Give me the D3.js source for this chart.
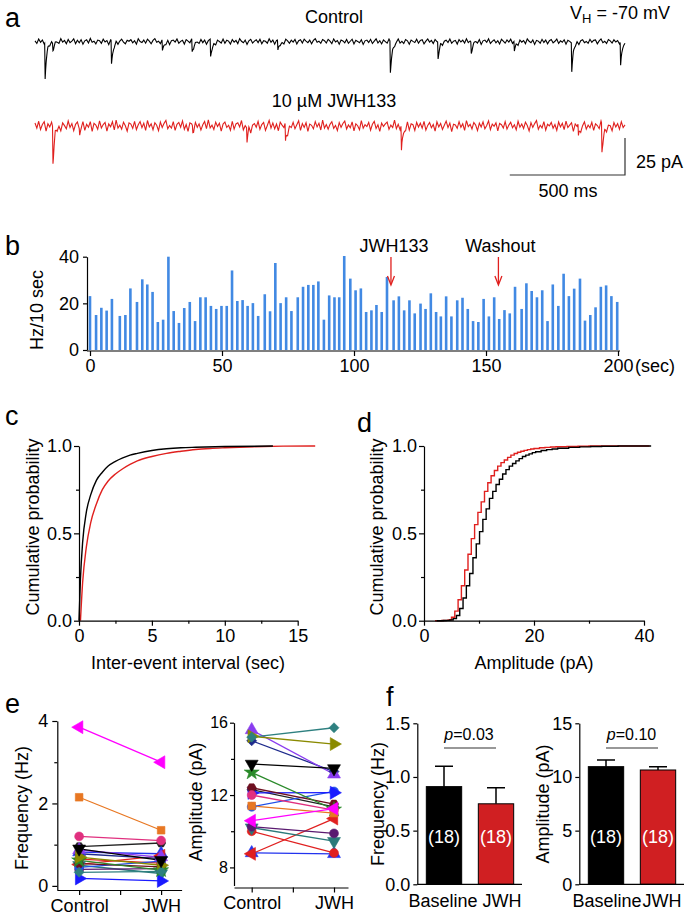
<!DOCTYPE html>
<html><head><meta charset="utf-8">
<script src="https://cdn.jsdelivr.net/npm/d3@7"></script>
<style>body{margin:0;background:#fff;}svg{display:block;}</style>
</head><body>
<script>
// ---------------- DATA ----------------
// Panel a: sEPSC traces (baseline noise sampled every 8 ms, pA) and events [time ms, amplitude pA]
const traceStep = 8;
const ctrlNoise = [0.6,-1.2,1.8,-0.4,1.1,-1.6,0.3,2.0,-0.9,0.7,-1.8,1.2,0.2,-1.0,2.1,-0.3,0.9,-1.4,1.5,-0.6,
0.4,1.9,-1.3,1.0,-0.7,1.4,-1.7,0.6,1.3,-0.9,2.2,-0.4,0.3,-1.5,1.1,0.7,-1.1,1.7,-0.2,0.8,
-2.0,1.3,0.4,-0.7,1.6,-1.3,0.6,1.8,-0.3,-1.4,1.0,0.3,1.4,-0.8,0.7,-1.7,2.0,0.1,-0.6,1.1,
-1.0,1.7,0.4,-1.4,0.9,2.1,-0.4,0.3,-1.3,1.6,0.6,-0.9,1.3,-1.8,0.7,1.1,-0.3,1.8,-1.1,0.2,
1.0,-1.6,1.4,0.4,-0.7,2.0,-1.3,0.9,0.3,-1.0,1.6,-0.6,1.1,-1.7,0.7,1.7,-0.4,0.6,-1.4,1.3,
0.2,-0.9,1.8,-1.1,1.0,0.4,-1.6,1.4,-0.3,0.9,-1.3,2.1,0.3,-0.7,1.1,-1.8,0.6,1.6,-0.9,0.4,
1.3,-0.6,1.7,-1.4,0.7,0.3,-1.0,2.0,-0.4,1.1,-1.7,0.9,1.4,-0.7,0.2,-1.3,1.8,0.6,-1.1,1.0,
-0.3,1.6,-1.6,0.7,1.3,-0.9,1.7,0.4,-0.6,1.1,-1.4,0.9,2.0,-0.4,0.3,-1.1,1.4,0.7,-0.9,1.6,
0.4,-1.3,1.9,-0.2,0.8,-1.7,1.2,0.5,-0.8,1.5,-1.1,0.3,1.7,-1.5,0.9,0.2,-0.7,1.3,-1.9,0.6,
1.1,-0.5,1.6,-1.2,0.4,1.9,-0.9,0.7,-1.5,1.2,0.1,-1.0,1.8,-0.6,1.0,-1.3,0.5,2.1,-0.8,0.3,
-1.2,1.4,0.6,-1.7,1.1,0.2,-0.6,1.7,-1.0,0.8,1.3,-1.5,0.4,1.9,-0.3,0.9,-1.2,1.5,0.1,-0.8,
1.6,-1.4,0.7,1.2,-0.5,1.8,-1.1,0.3,0.9,-1.6,1.4,-0.2,1.0,-0.9,2.0,-0.6,0.5,-1.3,1.2,0.8,
-0.7,1.5,-1.8,0.6,1.1,-0.4,1.9,-1.2,0.2,1.3,-0.8,0.7,-1.5,1.6,0.4,-1.0,1.2,-0.3,1.7,-1.1,
0.5,1.0,-1.6,1.4,-0.2,0.8,-1.3,1.9,0.3,-0.7,1.2,-1.8,0.9,0.4,-1.0,1.6,-0.5,1.1,-1.4,0.7,
1.5,-0.8,0.3,1.8,-1.2,0.6,-0.4,1.3,-1.7,1.0,0.2,-0.9,1.7,-0.3,1.1,-1.5,0.8,1.4,-0.6,0.2,
-1.1,1.6,-0.4,0.9,1.2,-1.4,0.5,1.9,-0.7,0.3,-1.2,1.5,0.6,-0.9,1.3,-0.2,0.8,-1.6,1.1,0.4,0.5];
const jwhNoise = [2.0,-1.5,3.2,-2.4,1.0,2.9,-3.5,1.5,-0.6,2.6,-2.9,3.7,-1.1,0.8,-3.0,2.2,0.3,-1.9,3.4,-1.0,
1.6,-3.2,1.1,2.7,-1.8,0.5,3.8,-2.6,1.3,-0.8,3.0,-3.7,1.8,0.6,-2.2,3.5,-1.3,1.0,2.4,-3.4,
1.4,-0.5,2.9,-2.7,4.0,-1.4,0.6,-2.1,2.6,0.2,-3.5,2.1,1.3,-1.6,3.2,-2.4,0.8,3.0,-1.1,1.9,
-2.9,3.7,-0.6,1.4,-2.6,2.2,0.5,-3.2,2.7,-1.0,1.8,3.8,-1.9,0.3,-1.4,2.9,-3.0,1.1,2.4,-0.8,
3.4,-2.2,1.0,-3.7,2.1,1.4,-1.6,3.5,-0.5,1.6,-2.7,0.8,3.0,-1.8,4.1,-1.3,0.6,-2.4,2.6,-0.3,
1.9,-3.4,1.3,2.7,-1.0,0.5,-2.9,3.2,-2.1,1.4,2.2,-0.6,3.7,-2.6,0.2,-1.6,2.9,-3.5,1.1,1.8,
-0.8,3.2,-2.2,1.0,2.4,-3.0,0.3,3.8,-1.4,2.1,-1.9,1.3,-3.2,2.6,0.6,-1.1,3.4,-2.4,1.4,-0.5,
2.7,-1.8,0.8,3.5,-2.9,1.6,-1.0,2.2,-3.7,1.3,0.5,-1.9,3.0,-0.6,1.8,-2.7,4.0,-1.4,1.0,-2.2,
1.1,2.9,-1.6,0.4,-3.1,2.3,-0.9,1.7,3.3,-2.0,0.7,-1.2,2.8,-3.3,1.5,0.2,-2.5,3.6,-1.5,0.9,
-0.4,2.4,-2.8,1.2,3.1,-1.7,0.8,-3.6,2.0,-0.3,1.4,2.7,-2.3,0.6,-1.0,3.9,-1.8,1.1,-2.6,2.2,
0.3,-1.4,3.4,-2.5,1.6,0.9,-3.0,2.5,-0.7,1.9,-1.5,3.1,-2.8,0.4,2.3,-1.2,1.0,-3.4,2.8,-0.6,
1.7,-2.3,0.5,3.3,-1.1,2.0,-3.8,1.2,0.7,-1.6,2.9,-0.9,1.5,-2.9,3.6,-0.4,1.1,-2.0,2.4,0.6,
-3.1,1.9,-0.7,2.8,-1.9,0.4,3.5,-2.4,1.3,-0.2,2.1,-3.3,1.7,0.9,-1.4,3.0,-2.1,0.6,2.5,-1.2,
0.8,-2.6,3.2,-0.8,1.4,-1.7,2.6,0.3,-3.4,2.2,-1.0,1.6,3.7,-2.2,0.5,-1.3,2.9,-2.8,1.2,0.1,
2.4,-1.5,1.0,-3.0,2.7,-0.6,1.8,-2.4,3.3,-1.1,0.6,2.2,-3.6,1.4,-0.3,2.6,-1.9,1.1,3.1,-2.0,
0.7,-1.2,2.5,-2.9,1.5,0.3,-1.8,3.4,-0.9,2.0,-2.5,1.1,0.4,-3.2,2.3,-0.7,1.6,-2.2,2.9,-1.0,0.8];
const ctrlEvents = [[42,24.5],[76,4.5],[330,15.7],[551,7.4],[680,7.9],[760,11.2],[1052,6.8],[1540,21],[1747,11.2],[1891,7.4],[2078,6.8],[2327,19.8],[2539,16]];
const jwhEvents = [[76,24],[192,5],[683,4],[918,9.5],[1085,12.8],[1588,17.3],[2356,8.3],[2458,19]];

// Panel b: event rate per 10 s bin
const rateTimes = [0,2.3,4.3,6.3,8.3,11.3,13.4,15.3,17.8,19.8,21.7,23.7,25.7,27.7,29.7,31.7,33.7,35.7,37.8,39.8,41.8,43.8,45.8,47.8,49.8,51.8,53.8,55.8,57.8,59.7,61.7,63.7,66.2,68.2,70.2,72.2,74.3,76.3,78.7,80.7,82.7,84.6,86.5,88.6,90.6,92.6,94.4,96.3,98.6,100.6,102.6,104.6,106.6,108.5,110.5,112.5,115.0,117.0,119.0,121.0,123.0,125.2,127.1,129.1,131.1,132.9,134.9,136.9,139.1,141.1,143.1,145.1,147.1,149.1,151.1,153.1,155.0,157.0,159.0,161.0,163.5,165.3,167.3,169.3,171.3,173.3,175.3,177.4,179.4,181.4,183.4,185.6,187.5,189.5,191.5,193.5,195.5,197.5,199.7];
const rateValues = [23.1,15,18.1,16.9,21.9,14.6,15,26.4,20.6,30.3,28.1,24.9,12,13,40,16.7,11.6,18,20.6,12.4,22.6,22.6,18.9,17.6,18.9,18.9,34.1,21,21.4,18.9,20.1,14.6,23.9,16.6,37.3,20.1,22.6,16.7,22.6,27.1,27.9,27.9,29.4,13,23.4,22.6,22.6,40.3,30.6,25.6,26.4,16.3,17,19.3,16.3,31.3,21.3,23,17,21.3,15.7,19.9,17.6,24.3,16.3,14.4,23,14.4,21.3,22.4,17.6,12.4,12,21.9,14.4,22.6,13.3,17.1,15.7,27.1,17.6,28.6,25.3,22.6,25.6,12.4,28.1,18.9,32.7,23.1,26.3,30.6,12.6,15,18.3,27.1,27.7,23.1,20.6];
const rateXTicks = [0,50,100,150,200];
const rateYTicks = [0,20,40];
const arrowTimes = [114,154.7];
const arrowLabels = ["JWH133","Washout"];

// Panel c: cumulative inter-event interval
const ieiCtrlX = [0,0.1,0.25,0.5,0.8,1.2,1.6,2.0,2.5,3,3.5,4,5,6,7,8,10,13.3];
const ieiCtrlP = [0,0.24,0.45,0.62,0.72,0.805,0.85,0.885,0.912,0.932,0.948,0.958,0.974,0.984,0.99,0.993,0.997,1.0];
const ieiJwhX = [0.1,0.25,0.5,0.8,1.2,1.6,2,2.5,3,3.5,4,5,6,7,8,9,10,12,14,16.2];
const ieiJwhP = [0,0.22,0.42,0.56,0.67,0.75,0.8,0.84,0.87,0.895,0.915,0.94,0.958,0.97,0.98,0.986,0.99,0.996,0.999,1.0];

// Panel d: cumulative amplitude
const ampBins = [2.0,2.6,3.2,3.8,4.4,5.0,5.6,6.2,6.8,7.4,8.0,8.6,9.2,9.8,10.4,11.0,11.6,12.2,12.8,13.4,14.0,14.6,15.2,15.8,16.4,17.0,17.6,18.2,18.8,19.4,20.0,21,22,23,24,26,28,30,32,35,41];
const ampCtrlP = [0,0,0.001,0.002,0.004,0.012,0.03,0.07,0.13,0.2,0.27,0.36,0.44,0.51,0.58,0.64,0.7,0.74,0.78,0.81,0.84,0.865,0.885,0.9,0.915,0.928,0.94,0.948,0.955,0.962,0.967,0.974,0.979,0.983,0.987,0.992,0.995,0.997,0.999,1.0,1.0];
const ampJwhP = [0,0,0.001,0.002,0.005,0.02,0.055,0.12,0.2,0.29,0.38,0.47,0.55,0.62,0.68,0.74,0.79,0.83,0.86,0.885,0.905,0.92,0.935,0.948,0.957,0.964,0.97,0.975,0.979,0.983,0.986,0.99,0.992,0.994,0.996,0.998,0.999,1.0,1.0,1.0,1.0];

// Panel e: individual cells
const cellColor = ["#ff00ff","#e87722","#e0307f","#000000","#2e8080","#8a8a00","#8a3cf0","#1e2a8c","#2a8a2a","#6e1020","#1a1aff","#2050e8","#5a1a70","#2a7a7a","#e02020","#e02020","#2233ee","#222222"];
const cellShape = ["tri-left","square","circle","tri-down","diamond","tri-right","tri-up","diamond","star","hexagon","tri-right","circle","circle","tri-down","circle","tri-left","tri-up","hexagon"];
const freqCtrl = [3.85,2.15,1.2,0.9,0.33,0.7,0.87,0.78,0.62,0.54,0.18,0.45,0.4,0.5,0.65,0.52,0.82,0.95];
const freqJwh  = [3.0,1.35,1.1,0.62,0.35,0.5,0.7,0.66,0.38,0.46,0.12,0.6,0.42,0.3,0.55,0.73,0.78,1.04];
const ampCtrl  = [10.58,11.4,12.0,13.72,15.2,15.25,15.6,15.0,13.25,12.4,12.12,11.35,10.25,10.2,10.0,8.75,8.8,12.3];
const ampJwh   = [11.25,11.0,11.17,13.47,15.72,14.82,13.15,13.3,11.2,11.5,12.13,12.2,9.88,9.45,8.8,10.7,8.75,11.35];
const pairCats = ["Control","JWH"];

// Panel f: summary bars
const barCats = ["Baseline","JWH"];
const freqMean = [0.91,0.75];
const freqSem = [0.19,0.15];
const ampMean = [10.96,10.65];
const ampSem = [0.62,0.31];
const nCells = [18,18];
const pFreq = "0.03";
const pAmp = "0.10";

// ---------------- DRAWING ----------------
const FF = 'Arial, "Liberation Sans", Helvetica, sans-serif';
const RED = "#e0201e";
const svg = d3.select("body").append("svg").attr("width",689).attr("height",917)
  .style("font-family",FF);

function txt(x,y,s,size,anchor,extra){
  const t = svg.append("text").attr("x",x).attr("y",y).attr("font-size",size)
    .attr("text-anchor",anchor||"middle").attr("fill","#000").text(s);
  if(extra) extra(t);
  return t;
}
function vtxt(cx,cy,s,size){
  return svg.append("text").attr("transform",`translate(${cx},${cy}) rotate(-90)`)
    .attr("text-anchor","middle").attr("dy","0.35em").attr("font-size",size).attr("fill","#000").text(s);
}
function styleAxis(g,fs){
  g.attr("font-size",fs).attr("font-family",FF);
  g.selectAll("path,line").attr("stroke","#000").attr("stroke-width",1.2);
  g.selectAll("text").attr("fill","#000");
  return g;
}
function yAxis(x,scale,major,minor,fmt,fs,tickLen,pad){
  const g = svg.append("g").attr("transform",`translate(${x},0)`)
    .call(d3.axisLeft(scale).tickValues(major).tickFormat(fmt).tickSize(tickLen).tickSizeOuter(0).tickPadding(pad));
  styleAxis(g,fs);
  if(minor && minor.length){
    const m = svg.append("g").attr("transform",`translate(${x},0)`)
      .call(d3.axisLeft(scale).tickValues(minor).tickFormat("").tickSize(3).tickSizeOuter(0));
    m.select(".domain").remove(); styleAxis(m,fs);
  }
  return g;
}
function xAxis(y,scale,major,minor,fmt,fs,tickLen,pad){
  const g = svg.append("g").attr("transform",`translate(0,${y})`)
    .call(d3.axisBottom(scale).tickValues(major).tickFormat(fmt).tickSize(tickLen).tickSizeOuter(0).tickPadding(pad));
  styleAxis(g,fs);
  if(minor && minor.length){
    const m = svg.append("g").attr("transform",`translate(0,${y})`)
      .call(d3.axisBottom(scale).tickValues(minor).tickFormat("").tickSize(3).tickSizeOuter(0));
    m.select(".domain").remove(); styleAxis(m,fs);
  }
  return g;
}

// panel letters
[["a",5,27],["b",5,255],["c",5,425],["d",357,432],["e",5,713],["f",386,706]].forEach(([l,x,y])=>txt(x,y,l,27,"start"));

// ---- Panel a ----
function buildTrace(noise,events){
  const set = new Set(noise.map((_,i)=>i*traceStep));
  events.forEach(([t])=>[0,2,4,7,11,16,24,36].forEach(d=>set.add(t+d)));
  const ts = Array.from(set).filter(t=>t<=(noise.length-1)*traceStep).sort((a,b)=>a-b);
  return ts.map(t=>{
    const i = Math.min(Math.floor(t/traceStep), noise.length-2);
    const f = t/traceStep - i;
    let v = noise[i]*(1-f)+noise[i+1]*f;
    events.forEach(([te,amp])=>{const d=t-te; if(d>=0){ v -= d<2 ? amp*d/2 : amp*Math.exp(-(d-2)/8); }});
    return [t,v];
  });
}
const xA = d3.scaleLinear().domain([0,2560]).range([35,625]);
const yCtrl = d3.scaleLinear().domain([0,25]).range([41.7,41.7-25*1.48]);
const yJwh = d3.scaleLinear().domain([0,25]).range([126,126-25*1.48]);
svg.append("path").datum(buildTrace(ctrlNoise,ctrlEvents))
  .attr("d",d3.line().x(d=>xA(d[0])).y(d=>yCtrl(d[1])))
  .attr("fill","none").attr("stroke","#000").attr("stroke-width",1.1);
svg.append("path").datum(buildTrace(jwhNoise,jwhEvents))
  .attr("d",d3.line().x(d=>xA(d[0])).y(d=>yJwh(d[1])))
  .attr("fill","none").attr("stroke",RED).attr("stroke-width",1.1);
txt(334,23,"Control",18);
txt(334,107,"10 µM JWH133",18);
txt(570,18.5,"V",18,"start",t=>{
  t.append("tspan").attr("font-size",13).attr("dy",4).text("H");
  t.append("tspan").attr("dy",-4).text(" = -70 mV");
});
// scale bars
const sbY = 175;
svg.append("path").attr("d",`M${xA(2060)},${sbY}H${xA(2560)}V${sbY-25*1.48}`)
  .attr("fill","none").attr("stroke","#333").attr("stroke-width",1.2);
txt(636,168,"25 pA",18,"start");
txt(568,197,"500 ms",18);

// ---- Panel b ----
const xB = d3.scaleLinear().domain([0,200]).range([90,618]);
const yB = d3.scaleLinear().domain([0,40]).range([350,256.7]);
svg.append("g").selectAll("rect").data(rateValues).join("rect")
  .attr("x",(d,i)=>xB(rateTimes[i])-1.3).attr("width",2.6)
  .attr("y",d=>yB(d)).attr("height",d=>yB(0)-yB(d))
  .attr("fill","#4189e3");
yAxis(87,yB,rateYTicks,[],d3.format("d"),18,4,4);
{
  const g = svg.append("g").attr("transform",`translate(0,351)`)
    .call(d3.axisBottom(xB).tickValues(rateXTicks).tickFormat(d3.format("d")).tickSize(5).tickSizeOuter(0).tickPadding(3));
  styleAxis(g,18);
  g.select(".domain").attr("d","M87,0H620");
}
txt(635,372,"(sec)",18,"start");
vtxt(37,310,"Hz/10 sec",18);
arrowTimes.forEach((t,i)=>{
  const x = xB(t);
  svg.append("line").attr("x1",x).attr("x2",x).attr("y1",257).attr("y2",284).attr("stroke",RED).attr("stroke-width",1.3);
  svg.append("path").attr("d",`M${x-3.5},276L${x},285L${x+3.5},276`).attr("fill","none").attr("stroke",RED).attr("stroke-width",1.3);
  txt(x+ (i===0?3:2),252,arrowLabels[i],18);
});

// ---- Panel c ----
const xC = d3.scaleLinear().domain([0,15]).range([79,297.7]);
const yC = d3.scaleLinear().domain([0,1]).range([620.7,446]);
const lineC = d3.line().x(d=>xC(d[0])).y(d=>yC(d[1])).curve(d3.curveMonotoneX);
svg.append("path").datum(ieiJwhX.map((x,i)=>[x,ieiJwhP[i]])).attr("d",lineC)
  .attr("fill","none").attr("stroke",RED).attr("stroke-width",1.4);
svg.append("path").datum(ieiCtrlX.map((x,i)=>[x,ieiCtrlP[i]])).attr("d",lineC)
  .attr("fill","none").attr("stroke","#000").attr("stroke-width",1.4);
yAxis(79,yC,[0,0.5,1],[0.25,0.75],d3.format(".1f"),18,5,2);
xAxis(620.7,xC,[0,5,10,15],[2.5,7.5,12.5],d3.format("d"),18,5,4);
vtxt(33,527,"Cumulative probability",18);
txt(188,669,"Inter-event interval (sec)",18);

// ---- Panel d ----
const xD = d3.scaleLinear().domain([0,40]).range([424,644]);
const yD = d3.scaleLinear().domain([0,1]).range([620.7,446]);
const lineD = d3.line().x(d=>xD(d[0])).y(d=>yD(d[1])).curve(d3.curveStepAfter);
svg.append("path").datum(ampBins.map((x,i)=>[x,ampJwhP[i]])).attr("d",lineD)
  .attr("fill","none").attr("stroke",RED).attr("stroke-width",1.4);
svg.append("path").datum(ampBins.map((x,i)=>[x+0.3,ampCtrlP[i]])).attr("d",lineD)
  .attr("fill","none").attr("stroke","#000").attr("stroke-width",1.4);
yAxis(424,yD,[0,0.5,1],[0.25,0.75],d3.format(".1f"),18,5,2);
xAxis(620.7,xD,[0,20,40],[10,30],d3.format("d"),18,5,4);
vtxt(377,527,"Cumulative probability",18);
txt(534,669,"Amplitude (pA)",18);

// ---- Panel e ----
function symbolPath(shape){
  switch(shape){
    case "circle": return d3.symbol(d3.symbolCircle,62)();
    case "square": return d3.symbol(d3.symbolSquare,58)();
    case "diamond": return d3.symbol(d3.symbolSquare,50)();
    case "star": return d3.symbol(d3.symbolStar,70)();
    case "hexagon": { const r=4.6; return d3.range(6).map((k,i)=>{const a=Math.PI/3*k; return (i?"L":"M")+(r*Math.cos(a)).toFixed(2)+","+(r*Math.sin(a)).toFixed(2);}).join("")+"Z"; }
    default: return d3.symbol(d3.symbolTriangle,72)();
  }
}
function symbolRot(shape){
  return {"tri-left":-90,"tri-right":90,"tri-down":180,"diamond":45}[shape]||0;
}
function pairedPlot(xs,ys,ctrl,jwh){
  const order = d3.range(ctrl.length).reverse();
  order.forEach(i=>{
    svg.append("line").attr("x1",xs(0)).attr("y1",ys(ctrl[i])).attr("x2",xs(1)).attr("y2",ys(jwh[i]))
      .attr("stroke",cellColor[i]).attr("stroke-width",1.3);
  });
  order.forEach(i=>{
    [[0,ctrl[i]],[1,jwh[i]]].forEach(([c,v])=>{
      svg.append("path").attr("d",symbolPath(cellShape[i]))
        .attr("transform",`translate(${xs(c)},${ys(v)}) rotate(${symbolRot(cellShape[i])})`)
        .attr("fill",cellColor[i]).attr("stroke",cellColor[i]).attr("stroke-width",0.6);
    });
  });
}
const xE1 = d3.scaleLinear().domain([-0.27,1.25]).range([57,181.6]);
const yE1 = d3.scaleLinear().domain([-0.1,4]).range([890,721]);
pairedPlot(xE1,yE1,freqCtrl,freqJwh);
yAxis(57.3,yE1,[0,2,4],[1,3],d3.format("d"),18,5,4);
xAxis(890,xE1,[0,0.5,1],[],d=>d===0?pairCats[0]:(d===1?pairCats[1]:""),18,5,4);
vtxt(22,808,"Frequency (Hz)",18);

const xE2 = d3.scaleLinear().domain([-0.215,1.17]).range([234,348]);
const yE2 = d3.scaleLinear().domain([7,16]).range([885.5,722.7]);
pairedPlot(xE2,yE2,ampCtrl,ampJwh);
yAxis(234,yE2,[8,12,16],[10,14],d3.format("d"),16,4,2);
xAxis(887.5,xE2,[0,0.5,1],[],d=>d===0?pairCats[0]:(d===1?pairCats[1]:""),18,5,4);
vtxt(196,802,"Amplitude (pA)",18);

// ---- Panel f ----
function barPanel(axisX,rangeEnd,yMax,yTicks,fmt,means,sems,pText,pX,lineX1,lineX2,yLab,yLabX,labelShift){
  const xs = d3.scaleBand().domain(barCats).range([axisX+0.7,rangeEnd]).paddingInner(0.32).paddingOuter(0.16);
  const ys = d3.scaleLinear().domain([0,yMax]).range([884.3,723.3]);
  const fills = ["#000000","#d01f22"];
  barCats.forEach((c,i)=>{
    const x0 = xs(c), bw = xs.bandwidth(), cx = x0+bw/2;
    svg.append("path").attr("d",`M${cx},${ys(means[i])}V${ys(means[i]+sems[i])}M${cx-9},${ys(means[i]+sems[i])}H${cx+9}`)
      .attr("stroke","#000").attr("stroke-width",1.5).attr("fill","none");
    svg.append("rect").attr("x",x0).attr("width",bw).attr("y",ys(means[i])).attr("height",ys(0)-ys(means[i]))
      .attr("fill",fills[i]).attr("stroke","#000").attr("stroke-width",1);
    txt(cx,843,`(${nCells[i]})`,18,"middle",t=>t.attr("fill","#fff"));
  });
  yAxis(axisX,ys,yTicks,[],fmt,18,4,3);
  const g = xAxis(884.3,xs,[],[],"",18,0,0);
  g.select(".domain").attr("d",`M${axisX},0H${rangeEnd}`);
  barCats.forEach((c,i)=>txt(xs(c)+xs.bandwidth()/2+labelShift[i],907,c,18));
  txt(pX,740,"",16,"middle",t=>{t.append("tspan").attr("font-style","italic").text("p");t.append("tspan").text("="+pText);});
  svg.append("line").attr("x1",lineX1).attr("x2",lineX2).attr("y1",748).attr("y2",748).attr("stroke","#333").attr("stroke-width",1.2);
  vtxt(yLabX,804,yLab,18);
}
barPanel(417.3,522,1.5,[0,0.5,1,1.5],d3.format(".1f"),freqMean,freqSem,pFreq,469,444,496,"Frequency (Hz)",378,[-1,6]);
barPanel(579.3,684,15,[0,5,10,15],d3.format("d"),ampMean,ampSem,pAmp,631.5,606,658,"Amplitude (pA)",543,[1,4]);
</script>
</body></html>
